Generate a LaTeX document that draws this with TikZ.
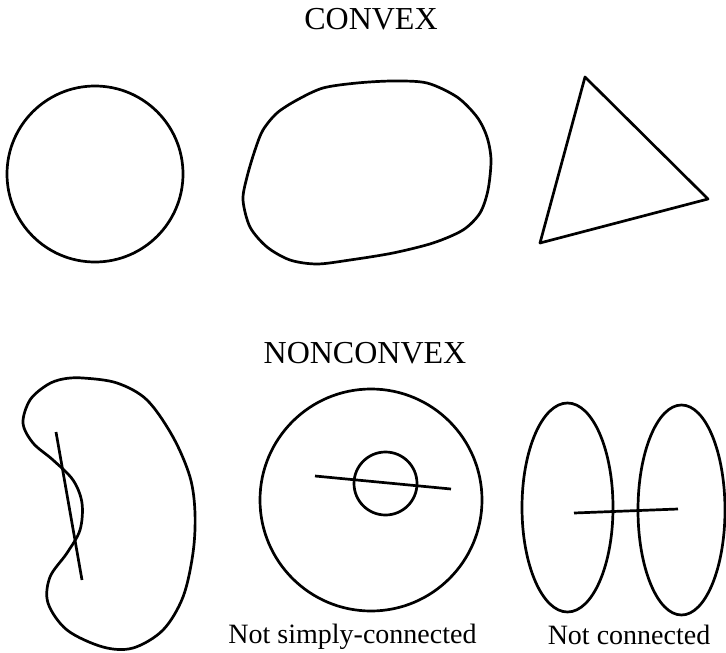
\documentclass[tikz,border=0pt]{standalone}
\usepackage{fontspec}
\setmainfont{Liberation Serif}
\begin{document}
\begin{tikzpicture}[x=1pt,y=-1pt,
  outline/.style={draw=black,line width=2.7pt,line join=round},
  cutline/.style={draw=black,line width=2.7pt},
  titletext/.style={anchor=base,inner sep=0pt,font=\fontsize{32}{38}\selectfont},
  captiontext/.style={anchor=base,inner sep=0pt,font=\fontsize{28}{34}\selectfont}]
\useasboundingbox (0,0) rectangle (726,653);
% titles
\node[titletext] (convex) at (371,29) {CONVEX};
\node[titletext] (nonconvex) at (365,363) {NONCONVEX};
% convex shapes
\draw[outline] (95,174) circle[radius=88];
\draw[outline] plot[smooth cycle,tension=0.5] coordinates {
  (323,88) (357,83) (393,81) (427,83) (457,97) (477,117) (487,137)
  (491,160) (488,190) (480,213) (463,230) (433,243) (393,253)
  (350,260) (317,264) (290,260) (267,247) (250,227) (243,200)
  (247,177) (255,150) (263,130) (277,113) (297,100)};
\draw[outline] (585,77) -- (708,199) -- (540,243) -- cycle;
% nonconvex: kidney
\draw[outline] plot[smooth cycle,tension=0.55] coordinates {
  (63,379) (83,378) (117,383) (147,400) (173,437) (190,477) (195,513)
  (193,553) (183,597) (163,630) (133,648) (103,647) (67,630) (48,603)
  (50,577) (67,553) (80,530) (82,503) (73,480) (53,460) (33,443)
  (23,423) (30,400) (47,385)};
\coordinate (k1) at (56,432);
\coordinate (k2) at (82,580);
\draw[cutline] (k1) -- (k2);
% annulus
\draw[outline] (371,500) circle[radius=111];
\draw[outline] (385.5,483.5) circle[radius=31.5];
\coordinate (a1) at (315,476);
\coordinate (a2) at (451,489);
\draw[cutline] (a1) -- (a2);
% two ellipses
\draw[outline] (567.5,507.5) ellipse[x radius=45.5,y radius=104.5];
\draw[outline] (681.5,510) ellipse[x radius=43.5,y radius=105];
\coordinate (e1) at (574,513);
\coordinate (e2) at (678,509);
\draw[cutline] (e1) -- (e2);
% captions
\node[captiontext] (notsimply) at (352.5,643) {Not simply-connected};
\node[captiontext] (notconn) at (629,644) {Not connected};
\end{tikzpicture}
\end{document}
